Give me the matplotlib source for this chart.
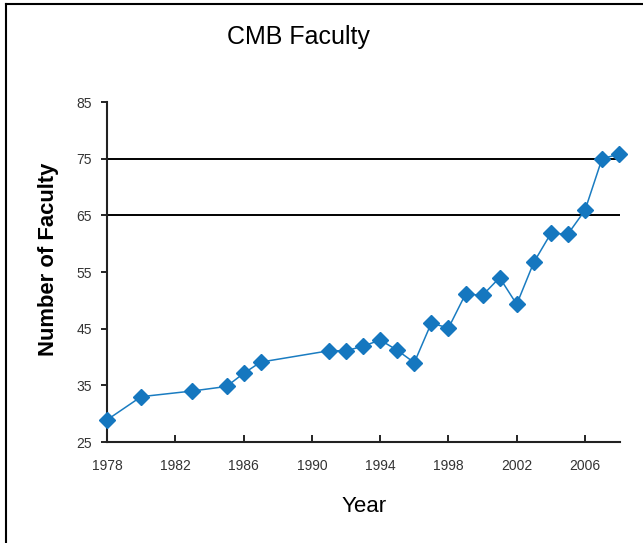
import matplotlib
matplotlib.use("Agg")
import matplotlib.pyplot as plt
from matplotlib.lines import Line2D

years = [1978, 1980, 1983, 1985, 1986, 1987, 1991, 1992, 1993, 1994, 1995, 1996,
         1997, 1998, 1999, 2000, 2001, 2002, 2003, 2004, 2005, 2006, 2007, 2008]
faculty = [28.9, 33.0, 34.0, 34.8, 37.1, 39.1, 41.1, 41.1, 41.9, 43.0, 41.2, 39.0,
           46.0, 45.1, 51.1, 50.9, 54.0, 49.3, 56.7, 61.8, 61.7, 65.9, 75.0, 75.8]
ref_lines = [75, 65]
x_ticks = [1978, 1982, 1986, 1990, 1994, 1998, 2002, 2006]
y_ticks = [25, 35, 45, 55, 65, 75, 85]

plt.rcParams['font.family'] = ['Liberation Sans', 'DejaVu Sans']

W, H = 643, 543
fig = plt.figure(figsize=(W / 100, H / 100), dpi=100)
ax = fig.add_axes([107 / W, 1 - 442 / H, 513 / W, 340 / H])

for v in ref_lines:
    ax.axhline(v, color='black', lw=1.4, zorder=1)

ax.plot(years, faculty, color='#1a7cc1', lw=1.1, marker='D', markersize=8.5,
        markerfacecolor='#1577bf', markeredgecolor='#1577bf', clip_on=False, zorder=3)

ax.set_xlim(1978, 2008.05)
ax.set_ylim(25, 85)
ax.set_xticks(x_ticks)
ax.set_yticks(y_ticks)
ax.tick_params(axis='x', direction='in', length=5, width=1.2, pad=12, labelsize=10, labelcolor='#333333')
ax.tick_params(axis='y', direction='out', length=4, width=1.2, pad=7, labelsize=10, labelcolor='#333333')

for s in ['top', 'right']:
    ax.spines[s].set_visible(False)
for s in ['left', 'bottom']:
    ax.spines[s].set_linewidth(1.5)
    ax.spines[s].set_color('#222222')

fig.text(298 / W, 1 - 37 / H, 'CMB Faculty', ha='center', va='center', fontsize=18)
fig.text(364 / W, 1 - 507 / H, 'Year', ha='center', va='center', fontsize=16)
fig.text(49 / W, 1 - 259 / H, 'Number of Faculty', ha='center', va='center', fontsize=15.8,
         fontweight='bold', rotation=90)

fig.add_artist(Line2D([6 / W, 6 / W], [0, 1 - 4 / H], color='black', lw=1.5, transform=fig.transFigure))
fig.add_artist(Line2D([6 / W, 1], [1 - 4 / H, 1 - 4 / H], color='black', lw=1.5, transform=fig.transFigure))

fig.savefig('out.png', dpi=100)
